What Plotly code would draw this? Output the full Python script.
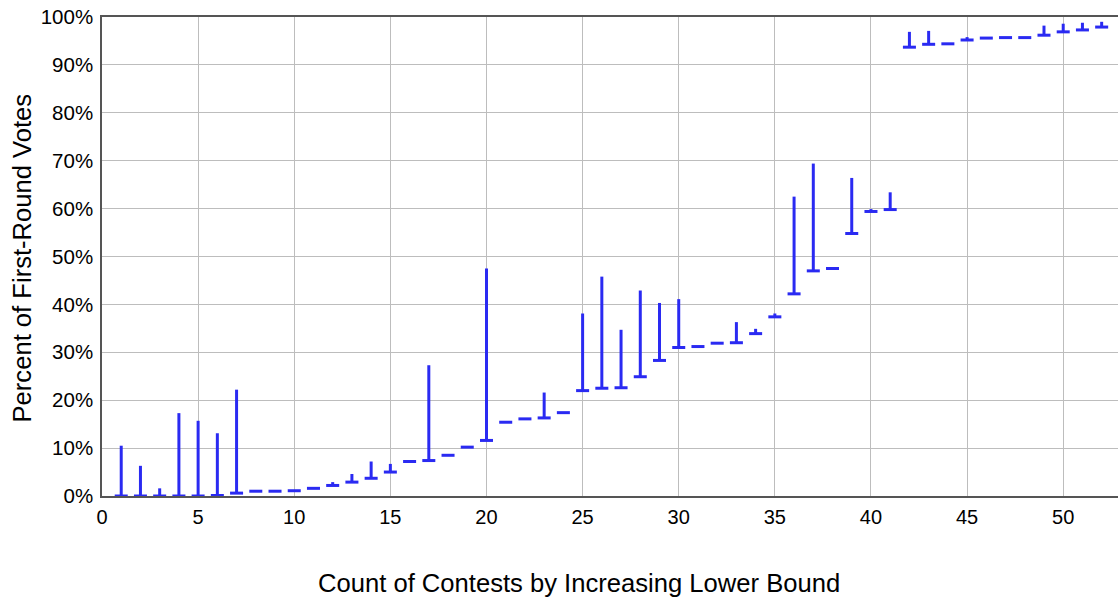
import plotly.graph_objects as go

contest = list(range(1, 53))
lower = [0.0, 0.0, 0.0, 0.0, 0.0, 0.1, 0.6, 1.0, 1.0, 1.1,
         1.6, 2.2, 2.9, 3.7, 5.0, 7.2, 7.4, 8.5, 10.2, 11.6,
         15.4, 16.1, 16.3, 17.4, 22.0, 22.5, 22.6, 24.9, 28.3, 31.0,
         31.2, 31.9, 32.0, 33.9, 37.4, 42.2, 47.0, 47.5, 54.8, 59.4,
         59.8, 93.7, 94.3, 94.4, 95.2, 95.6, 95.7, 95.7, 96.2, 96.9,
         97.3, 97.9]
upper = [10.5, 6.3, 1.6, 17.3, 15.7, 13.1, 22.2, 1.0, 1.0, 1.1,
         1.6, 2.9, 4.6, 7.2, 6.7, 7.2, 27.3, 8.5, 10.2, 47.5,
         15.4, 16.1, 21.6, 17.4, 38.1, 45.8, 34.7, 42.9, 40.3, 41.1,
         31.2, 31.9, 36.3, 34.9, 38.1, 62.5, 69.4, 47.7, 66.4, 59.9,
         63.4, 96.9, 97.1, 94.4, 95.8, 95.6, 95.7, 95.7, 98.2, 98.6,
         98.8, 99.0]
x_ticks = [0, 5, 10, 15, 20, 25, 30, 35, 40, 45, 50]
y_ticks = [0, 10, 20, 30, 40, 50, 60, 70, 80, 90, 100]
y_tick_labels = [f"{v}%" for v in y_ticks]

BLUE = "#2a2af2"
span = [u - l for u, l in zip(upper, lower)]

fig = go.Figure()
fig.add_trace(go.Scatter(
    x=contest, y=lower, mode="markers",
    marker=dict(symbol="line-ew", size=9.3, color=BLUE,
                line=dict(color=BLUE, width=3)),
    error_y=dict(type="data", symmetric=False, array=span,
                 arrayminus=[0] * len(span), color=BLUE,
                 thickness=3, width=0),
    cliponaxis=False, showlegend=False, hoverinfo="skip",
))

FONT = "Liberation Sans, Arial, sans-serif"
fig.update_layout(
    width=1118, height=599,
    margin=dict(l=102, r=0, t=17, b=103),
    paper_bgcolor="white", plot_bgcolor="white",
    font=dict(family=FONT, size=20, color="black"),
    xaxis=dict(range=[0, 52.85], tickvals=x_ticks, showgrid=True,
               gridcolor="#bdbdbd", gridwidth=1, zeroline=False,
               showline=True, linecolor="#555555", linewidth=1.5,
               mirror=True, ticks="", tickfont=dict(size=20),
               ticklabelstandoff=2),
    yaxis=dict(range=[0, 100], tickvals=y_ticks, ticktext=y_tick_labels,
               showgrid=True, gridcolor="#bdbdbd", gridwidth=1,
               zeroline=False, showline=True, linecolor="#555555",
               linewidth=1.5, mirror=False, ticks="",
               tickfont=dict(size=20.5), ticklabelstandoff=3),
    annotations=[
        dict(text="Count of Contests by Increasing Lower Bound",
             xref="paper", yref="paper", x=0.4695, y=-0.1816,
             xanchor="center", yanchor="middle", showarrow=False,
             font=dict(size=25.6, family=FONT, color="black")),
        dict(text="Percent of First-Round Votes",
             xref="paper", yref="paper", x=-0.0787, y=0.496,
             xanchor="center", yanchor="middle", showarrow=False,
             textangle=-90,
             font=dict(size=25.6, family=FONT, color="black")),
    ],
)

fig.write_html(
    "out.html",
    config={"displayModeBar": False},
    post_script="document.body.style.margin='0';document.body.style.overflow='hidden';",
)
